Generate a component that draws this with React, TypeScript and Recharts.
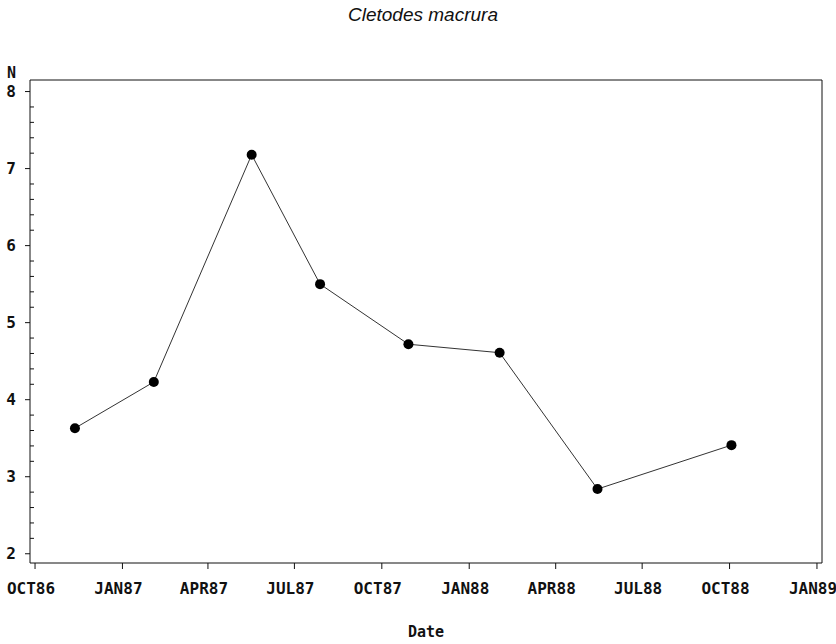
import React from "react"
import { LineChart, Line, XAxis, YAxis, ReferenceLine } from "recharts"

// sampling dates and abundance (N)
const sampleDates = ["1986-11-12", "1987-02-03", "1987-05-17", "1987-07-28", "1987-10-29", "1988-02-02", "1988-05-15", "1988-10-03"]
const nValues = [3.63, 4.23, 7.18, 5.5, 4.72, 4.61, 2.84, 3.41]

const tickDates = ["1986-10-01", "1987-01-01", "1987-04-01", "1987-07-01", "1987-10-01", "1988-01-01", "1988-04-01", "1988-07-01", "1988-10-01", "1989-01-01"]
const tickLabels = ["OCT86", "JAN87", "APR87", "JUL87", "OCT87", "JAN88", "APR88", "JUL88", "OCT88", "JAN89"]

const yTicks = [2, 3, 4, 5, 6, 7, 8]
const yMinorTicks = [
  2.2, 2.4, 2.6, 2.8, 3.2, 3.4, 3.6, 3.8, 4.2, 4.4, 4.6, 4.8,
  5.2, 5.4, 5.6, 5.8, 6.2, 6.4, 6.6, 6.8, 7.2, 7.4, 7.6, 7.8,
]

const base = Date.UTC(1986, 9, 1)
const toDay = (s: string) => {
  const [y, m, d] = s.split("-").map(Number)
  return (Date.UTC(y, m - 1, d) - base) / 86400000
}

const data = sampleDates.map((d, i) => ({ day: toDay(d), n: nValues[i] }))
const xTicks = tickDates.map(toDay)
const labelFor = (v: number) => tickLabels[xTicks.indexOf(v)] ?? ""

const xMin = -5.3
const xMax = 828.3
const yMin = 1.88
const yMax = 8.15
const minorLen = 4.2 // days, about 4px
const mono = "'DejaVu Sans Mono', monospace"
const ink = "#111"

export default function App() {
  return (
    <div style={{ position: "absolute", left: 0, top: 0, width: 836, height: 644, background: "#fff" }}>
      <div
        style={{
          position: "absolute", left: 0, width: 846, top: 4, textAlign: "center",
          fontFamily: "'Liberation Sans', Arial, sans-serif", fontStyle: "italic", fontSize: 19, color: ink,
        }}
      >
        Cletodes macrura
      </div>
      <div style={{ position: "absolute", left: 7, top: 64, fontFamily: mono, fontWeight: "bold", fontSize: 15, color: ink }}>
        N
      </div>
      <LineChart width={836} height={644} data={data} margin={{ top: 80, right: 14, bottom: 3, left: 0 }}>
        <XAxis
          dataKey="day"
          type="number"
          domain={[xMin, xMax]}
          ticks={xTicks}
          tickFormatter={labelFor}
          interval={0}
          allowDataOverflow
          height={78}
          tickSize={6}
          tickMargin={14}
          stroke={ink}
          tick={{ fill: ink, fontFamily: mono, fontWeight: "bold", fontSize: 16, dx: -4 }}
          label={{ value: "Date", position: "insideBottom", offset: 4, fill: ink, fontFamily: mono, fontWeight: "bold", fontSize: 15 }}
        />
        <YAxis
          type="number"
          domain={[yMin, yMax]}
          ticks={yTicks}
          interval={0}
          allowDataOverflow
          width={30}
          tickSize={5}
          tickMargin={9}
          stroke={ink}
          tick={{ fill: ink, fontFamily: mono, fontWeight: "bold", fontSize: 16 }}
        />
        {/* frame: top and right edges */}
        <ReferenceLine y={yMax} stroke={ink} strokeWidth={1} ifOverflow="extendDomain" />
        <ReferenceLine x={xMax} stroke={ink} strokeWidth={1} ifOverflow="extendDomain" />
        {/* inward minor ticks on the y axis */}
        {yMinorTicks.map((v) => (
          <ReferenceLine
            key={v}
            segment={[{ x: xMin, y: v }, { x: xMin + minorLen, y: v }]}
            stroke={ink}
            strokeWidth={1}
          />
        ))}
        <Line
          dataKey="n"
          type="linear"
          stroke="#333"
          strokeWidth={1}
          dot={{ r: 5, fill: "#000", stroke: "#000", strokeWidth: 0 }}
          activeDot={false}
          isAnimationActive={false}
        />
      </LineChart>
    </div>
  )
}
